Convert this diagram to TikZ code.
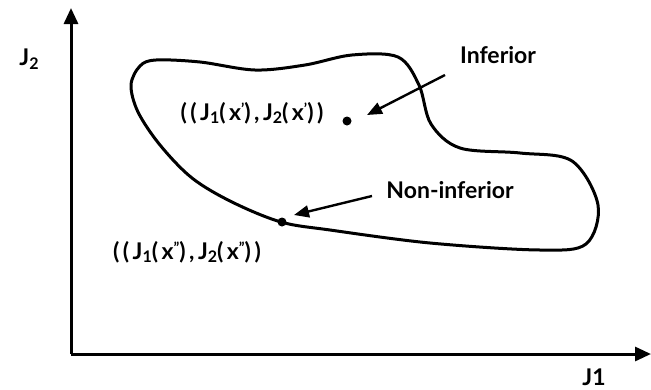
\documentclass[tikz,border=0pt]{standalone}
\usepackage{fontspec}
\setmainfont{Lato}
\usetikzlibrary{arrows.meta}
\newcommand{\lsub}[1]{\raisebox{-0.3ex}{\fontsize{16}{16}\selectfont #1}}
\newcommand{\lsup}[1]{\raisebox{0.5ex}{\fontsize{15}{15}\selectfont #1}}
\begin{document}
\begin{tikzpicture}[x=1pt,y=-1pt,
  lbl/.style={font=\bfseries\fontsize{23}{26}\selectfont, inner sep=0pt},
  formula/.style={font=\bfseries\fontsize{23}{26}\selectfont\addfontfeature{LetterSpace=15}, inner sep=0pt},
  axis/.style={line width=3pt,-{Triangle[length=16pt,width=14pt]}},
  pointer/.style={line width=2.4pt,-{Triangle[length=15pt,width=12pt]}},
  dotnode/.style={circle, fill=black, inner sep=0pt, minimum size=9pt}]
\useasboundingbox (0,0) rectangle (651,389);
\coordinate (O) at (71,354);
\coordinate (ytop) at (71,8);
\coordinate (xend) at (651,354);
\draw[axis] (O) -- (ytop);
\draw[axis] (O) -- (xend);
\node[formula] (j2) at (29,59) {J\lsub{2}};
\node[lbl] (j1) at (594,377) {J1};
% region
\draw[line width=3pt] plot[smooth cycle, tension=0.55] coordinates {
 (281,222) (232,202) (192,178) (160,145) (138,112) (131,85) (140,66) (156,60)
 (200,62) (255,70) (305,65) (352,55) (398,57) (419,85) (431,124)
 (460,148) (520,153) (572,161) (598,205) (586,244) (540,250)
 (430,243) (330,230)};
\node[dotnode] (p1) at (347,121) {};
\node[dotnode] (p2) at (282,222) {};
\node[lbl] (inf) at (498,55) {Inferior};
\node[lbl] (ninf) at (450,190) {Non-inferior};
\node[formula] (l1) at (252,113) {((J\lsub{1}(x\lsup{'}),J\lsub{2}(x\lsup{'}))};
\node[formula] (l2) at (187,252) {((J\lsub{1}(x\lsup{''}),J\lsub{2}(x\lsup{''}))};
\coordinate (s1) at (445,75);
\coordinate (t1) at (367,115);
\coordinate (s2) at (372,196);
\coordinate (t2) at (294,215);
\draw[pointer] (s1) -- (t1);
\draw[pointer] (s2) -- (t2);
\end{tikzpicture}
\end{document}
